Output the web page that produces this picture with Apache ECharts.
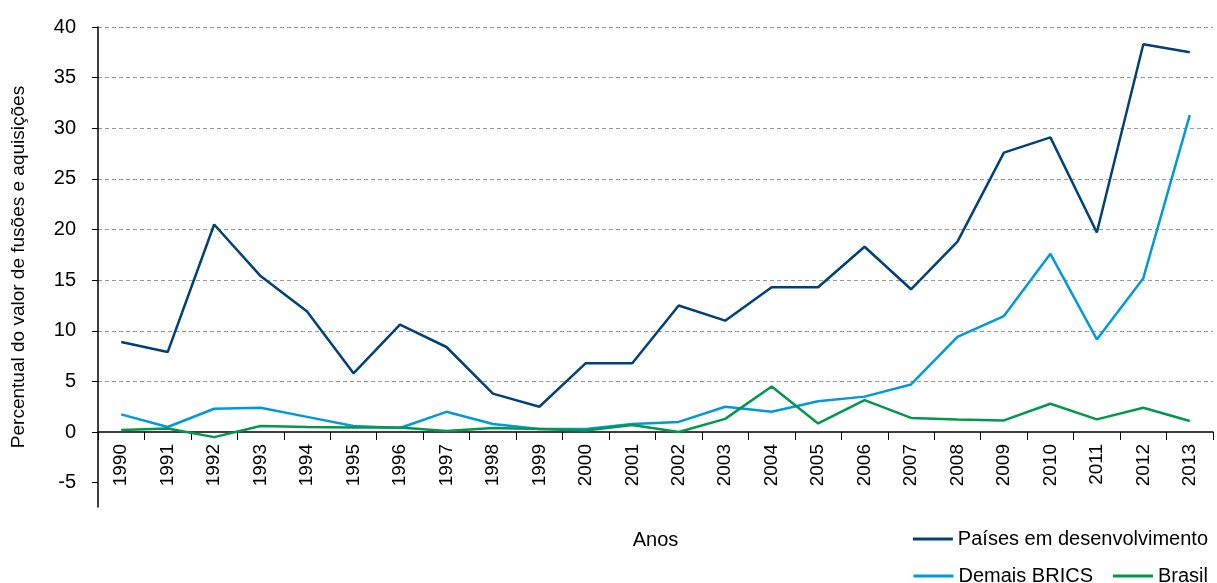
<!DOCTYPE html>
<html>
<head>
<meta charset="utf-8">
<script src="https://cdn.jsdelivr.net/npm/echarts@6/dist/echarts.min.js"></script>
<style>
	html, body { margin: 0; padding: 0; background: #fff; }
	#main { width: 1217px; height: 583px; }
</style>
</head>
<body>
<div id="main"></div>
<script>
// anos
var anos = ['1990','1991','1992','1993','1994','1995','1996','1997','1998','1999','2000','2001',
	'2002','2003','2004','2005','2006','2007','2008','2009','2010','2011','2012','2013'];

// Países em desenvolvimento
var paises = [8.9, 7.9, 20.5, 15.4, 11.9, 5.8, 10.6, 8.4, 3.8, 2.5, 6.8, 6.8,
	12.5, 11.0, 14.3, 14.3, 18.3, 14.1, 18.8, 27.6, 29.1, 19.7, 38.3, 37.5];

// Demais BRICS
var brics = [1.75, 0.5, 2.3, 2.4, 1.5, 0.6, 0.4, 2.0, 0.8, 0.3, 0.3, 0.8,
	1.0, 2.5, 2.0, 3.05, 3.5, 4.7, 9.4, 11.45, 17.6, 9.15, 15.2, 31.3];

// Brasil
var brasil = [0.2, 0.35, -0.5, 0.6, 0.5, 0.45, 0.45, 0.1, 0.4, 0.3, 0.15, 0.7,
	0.0, 1.3, 4.5, 0.85, 3.15, 1.4, 1.25, 1.15, 2.8, 1.25, 2.4, 1.1];

// marcas do eixo y
var marcasY = [-5, 0, 5, 10, 15, 20, 25, 30, 35, 40];

var fonte = '"Liberation Sans Narrow", "Arial Narrow", "Liberation Sans", sans-serif';

var myChart = echarts.init(document.getElementById('main'));

var option = {
	animation: false,
	textStyle: { fontFamily: fonte, color: '#000' },
	grid: { left: 98, right: 4, top: 27, bottom: 76, containLabel: false, outerBoundsMode: 'none' },
	legend: [{
		data: ['Países em desenvolvimento'],
		right: 4,
		top: 524,
		itemWidth: 40,
		itemHeight: 3,
		icon: 'rect',
		textStyle: { fontFamily: fonte, fontSize: 20, color: '#000' }
	}, {
		data: ['Demais BRICS', 'Brasil'],
		right: 4,
		top: 561,
		itemWidth: 40,
		itemHeight: 3,
		itemGap: 20,
		icon: 'rect',
		textStyle: { fontFamily: fonte, fontSize: 20, color: '#000' }
	}],
	xAxis: {
		type: 'category',
		data: anos,
		boundaryGap: true,
		// eixo x na linha do zero
		offset: -75,
		name: 'Anos',
		nameLocation: 'middle',
		nameGap: 98,
		nameTextStyle: { fontFamily: fonte, fontSize: 20, color: '#000' },
		axisLine: { onZero: false, lineStyle: { color: '#000', width: 1.5 } },
		axisTick: { show: true, length: 8, lineStyle: { color: '#000' } },
		axisLabel: { rotate: 90, fontFamily: fonte, fontSize: 19, color: '#000', margin: 12 }
	},
	yAxis: {
		type: 'value',
		min: -7.4,
		max: 40,
		name: 'Percentual do valor de fusões e aquisições',
		nameLocation: 'middle',
		nameGap: 70,
		nameTextStyle: { fontFamily: fonte, fontSize: 19, color: '#000' },
		axisLine: { show: true, lineStyle: { color: '#000', width: 1.5 } },
		axisTick: { show: true, length: 6, customValues: marcasY, lineStyle: { color: '#000' } },
		axisLabel: { fontFamily: fonte, fontSize: 20, color: '#000', margin: 22, customValues: marcasY },
		splitLine: {
			show: true,
			lineStyle: {
				type: [4, 3],
				color: ['rgba(0,0,0,0)', 'rgba(0,0,0,0)', '#999', '#999', '#999', '#999', '#999', '#999', '#999', '#999']
			}
		}
	},
	series: [{
		name: 'Países em desenvolvimento',
		type: 'line',
		data: paises,
		symbol: 'none',
		color: '#004178',
		lineStyle: { width: 2.5, color: '#004178' }
	}, {
		name: 'Demais BRICS',
		type: 'line',
		data: brics,
		symbol: 'none',
		color: '#0099dc',
		lineStyle: { width: 2.5, color: '#0099dc' }
	}, {
		name: 'Brasil',
		type: 'line',
		data: brasil,
		symbol: 'none',
		color: '#00984a',
		lineStyle: { width: 2.5, color: '#00984a' }
	}]
};

myChart.setOption(option);
</script>
</body>
</html>
